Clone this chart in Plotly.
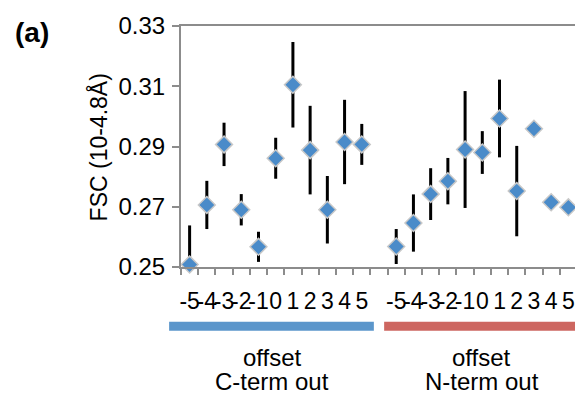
import plotly.graph_objects as go

offset_labels = ["-5", "-4", "-3", "-2", "-1", "0", "1", "2", "3", "4", "5"]
c_term_values = [0.2508, 0.2706, 0.2907, 0.2690, 0.2567, 0.2861, 0.3105, 0.2888, 0.2690, 0.2915, 0.2907]
c_term_errors = [0.0130, 0.0080, 0.0072, 0.0052, 0.0050, 0.0068, 0.0142, 0.0147, 0.0112, 0.0140, 0.0068]
n_term_values = [0.2568, 0.2646, 0.2742, 0.2785, 0.2890, 0.2880, 0.2993, 0.2752, 0.2959, 0.2715, 0.2698]
n_term_errors = [0.0058, 0.0095, 0.0086, 0.0077, 0.0194, 0.0071, 0.0129, 0.0150, 0.0, 0.0, 0.0]
y_ticks = [0.25, 0.27, 0.29, 0.31, 0.33]

# category slots: group 1, one empty slot, group 2
n = len(offset_labels)
c_pos = list(range(n))
n_pos = [n + 1 + i for i in range(n)]
all_pos = c_pos + [n] + n_pos
all_labels = offset_labels + [""] + offset_labels
n_slots = len(all_pos)

FONT = "Liberation Sans, Arial, sans-serif"
AXIS = "#8c8c8c"

fig = go.Figure()
for xs, ys, es in [(c_pos, c_term_values, c_term_errors), (n_pos, n_term_values, n_term_errors)]:
    fig.add_trace(go.Scatter(
        x=xs, y=ys, mode="markers",
        error_y=dict(type="data", array=es, visible=True, color="black", thickness=3, width=0),
        marker=dict(symbol="diamond", size=13, color="#4a8bc9", line=dict(color="#c8c8c8", width=1.5)),
        cliponaxis=False, showlegend=False,
    ))

# page body has an 8px default margin, so the figure is 8px smaller and offset
fig.update_layout(
    width=575, height=389,
    margin=dict(l=173, r=4, t=12, b=130),
    paper_bgcolor="white", plot_bgcolor="white",
    font=dict(family=FONT, size=24, color="black"),
    xaxis=dict(
        range=[-0.5, n_slots - 0.5], tickmode="array", tickvals=all_pos, ticktext=all_labels,
        tickangle=0, ticks="", showgrid=False, zeroline=False, tickfont=dict(size=23),
        showline=True, linecolor=AXIS, linewidth=2, mirror=True,
        ticklabelstandoff=12, ticklabeloverflow="allow",
        minor=dict(tickmode="array", tickvals=[p - 0.5 for p in all_pos] + [n_slots - 0.5],
                   ticks="outside", ticklen=6, tickcolor=AXIS, tickwidth=1.5, showgrid=False),
    ),
    yaxis=dict(
        range=[0.25, 0.33], tickmode="array", tickvals=y_ticks, ticktext=[f"{v:.2f}" for v in y_ticks],
        ticks="outside", ticklen=7, tickcolor=AXIS, tickwidth=1.5, showgrid=False, zeroline=False,
        showline=True, linecolor=AXIS, linewidth=2, mirror=True, ticklabelstandoff=2,
        ticklabeloverflow="allow",
    ),
    shapes=[
        dict(type="line", xref="paper", yref="paper", x0=-0.030, x1=0.487, y0=-0.246, y1=-0.246,
             line=dict(color="#5b96cb", width=9)),
        dict(type="line", xref="paper", yref="paper", x0=0.513, x1=1.02, y0=-0.246, y1=-0.246,
             line=dict(color="#cd6660", width=9)),
    ],
    annotations=[
        dict(text="offset", xref="paper", yref="paper", x=0.231, y=-0.377,
             showarrow=False, font=dict(size=24), xanchor="center", yanchor="middle"),
        dict(text="C-term out", xref="paper", yref="paper", x=0.231, y=-0.474,
             showarrow=False, font=dict(size=24), xanchor="center", yanchor="middle"),
        dict(text="offset", xref="paper", yref="paper", x=0.759, y=-0.377,
             showarrow=False, font=dict(size=24), xanchor="center", yanchor="middle"),
        dict(text="N-term out", xref="paper", yref="paper", x=0.759, y=-0.474,
             showarrow=False, font=dict(size=24), xanchor="center", yanchor="middle"),
        dict(text="<b>(a)</b>", xref="paper", yref="paper", x=-0.377, y=0.972,
             showarrow=False, font=dict(size=28), xanchor="center", yanchor="middle"),
        dict(text="FSC (10-4.8Å)", xref="paper", yref="paper", x=-0.206, y=0.498, textangle=-90,
             showarrow=False, font=dict(size=23), xanchor="center", yanchor="middle"),
    ],
)

fig.write_html("out.html")
